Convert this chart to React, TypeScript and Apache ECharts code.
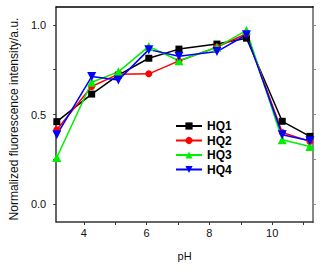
import React, { useEffect, useRef } from "react";
import * as echarts from "echarts";

const pH = [3.14, 4.25, 5.1, 6.07, 7.03, 8.24, 9.18, 10.32, 11.2];
const hq1 = [0.46, 0.614, 0.72, 0.814, 0.865, 0.893, 0.926, 0.462, 0.378];
const hq2 = [0.415, 0.656, 0.725, 0.727, 0.799, 0.876, 0.951, 0.4, 0.35];
const hq3 = [0.26, 0.68, 0.738, 0.88, 0.8, 0.875, 0.97, 0.359, 0.321];
const hq4 = [0.387, 0.712, 0.692, 0.862, 0.825, 0.851, 0.945, 0.387, 0.353];
const xTicks = [4, 5, 6, 7, 8, 9, 10, 11];
const xLabels = [4, 6, 8, 10];
const yTicks = [0, 0.25, 0.5, 0.75, 1.0];
const yLabels = [0, 0.5, 1.0];

const seriesDefs = [
  { name: "HQ1", data: hq1, color: "#000000", symbol: "rect", size: 7 },
  { name: "HQ2", data: hq2, color: "#ff0000", symbol: "circle", size: 7 },
  { name: "HQ3", data: hq3, color: "#00ee00", symbol: "triangle", size: 9 },
  { name: "HQ4", data: hq4, color: "#0000ff", symbol: "path://M0,0 L10,0 L5,9 Z", size: 9 },
];

export default function App() {
  const ref = useRef<HTMLDivElement>(null);
  useEffect(() => {
    document.body.style.margin = "0";
    if (!ref.current) return;
    const chart = echarts.init(ref.current, undefined, { renderer: "svg" });
    const font = "Arial, 'Liberation Sans', sans-serif";
    chart.setOption({
      animation: false,
      backgroundColor: "#ffffff",
      grid: { left: 51, right: 10, top: 7, bottom: 47 },
      legend: {
        orient: "vertical",
        left: 175,
        top: 120,
        padding: 0,
        itemWidth: 26,
        itemHeight: 9,
        itemGap: 2.5,
        textStyle: { fontFamily: font, fontSize: 12, fontWeight: "bold", color: "#000", lineHeight: 12 },
        data: seriesDefs.map((s) => s.name),
      },
      xAxis: [
        {
          type: "value",
          min: 3.12,
          max: 11.3,
          name: "pH",
          nameLocation: "middle",
          nameGap: 28,
          nameTextStyle: { fontFamily: font, fontSize: 11, color: "#111" },
          axisLine: { show: true, onZero: false, lineStyle: { color: "#333", width: 1.5 } },
          axisTick: { show: true, inside: false, length: 3, customValues: xTicks, lineStyle: { color: "#333", width: 1 } },
          axisLabel: { customValues: xLabels, margin: 5, fontFamily: font, fontSize: 11, color: "#111" },
          splitLine: { show: false },
        },
        {
          type: "value",
          position: "top",
          min: 3.12,
          max: 11.3,
          axisLine: { show: true, onZero: false, lineStyle: { color: "#000", width: 1.5 } },
          axisTick: { show: false },
          axisLabel: { show: false },
          splitLine: { show: false },
        },
      ],
      yAxis: [
        {
          type: "value",
          min: -0.1,
          max: 1.1,
          name: "Normalized fluorescence intensity/a.u.",
          nameLocation: "middle",
          nameGap: 32,
          nameTextStyle: { fontFamily: font, fontSize: 12, color: "#111", padding: [0, 9, 0, 0] },
          axisLine: { show: true, onZero: false, lineStyle: { color: "#333", width: 1.5 } },
          axisTick: { show: true, inside: false, length: 3, customValues: yTicks, lineStyle: { color: "#333", width: 1 } },
          axisLabel: {
            customValues: yLabels,
            margin: 10,
            fontFamily: font,
            fontSize: 11,
            color: "#111",
            formatter: (v: number) => v.toFixed(1),
          },
          splitLine: { show: false },
        },
        {
          type: "value",
          position: "right",
          min: -0.1,
          max: 1.1,
          axisLine: { show: true, onZero: false, lineStyle: { color: "#888", width: 2 } },
          axisTick: { show: true, inside: false, length: 3, customValues: yTicks, lineStyle: { color: "#888" } },
          axisLabel: { show: false },
          splitLine: { show: false },
        },
      ],
      series: seriesDefs.map((s) => ({
        name: s.name,
        type: "line",
        data: pH.map((x, i) => [x, s.data[i]]),
        symbol: s.symbol,
        symbolSize: s.size,
        showAllSymbol: true,
        lineStyle: { color: s.color, width: 1.5 },
        itemStyle: { color: s.color },
        color: s.color,
      })),
    });
    return () => chart.dispose();
  }, []);
  return <div ref={ref} style={{ width: 323, height: 269 }} />;
}
